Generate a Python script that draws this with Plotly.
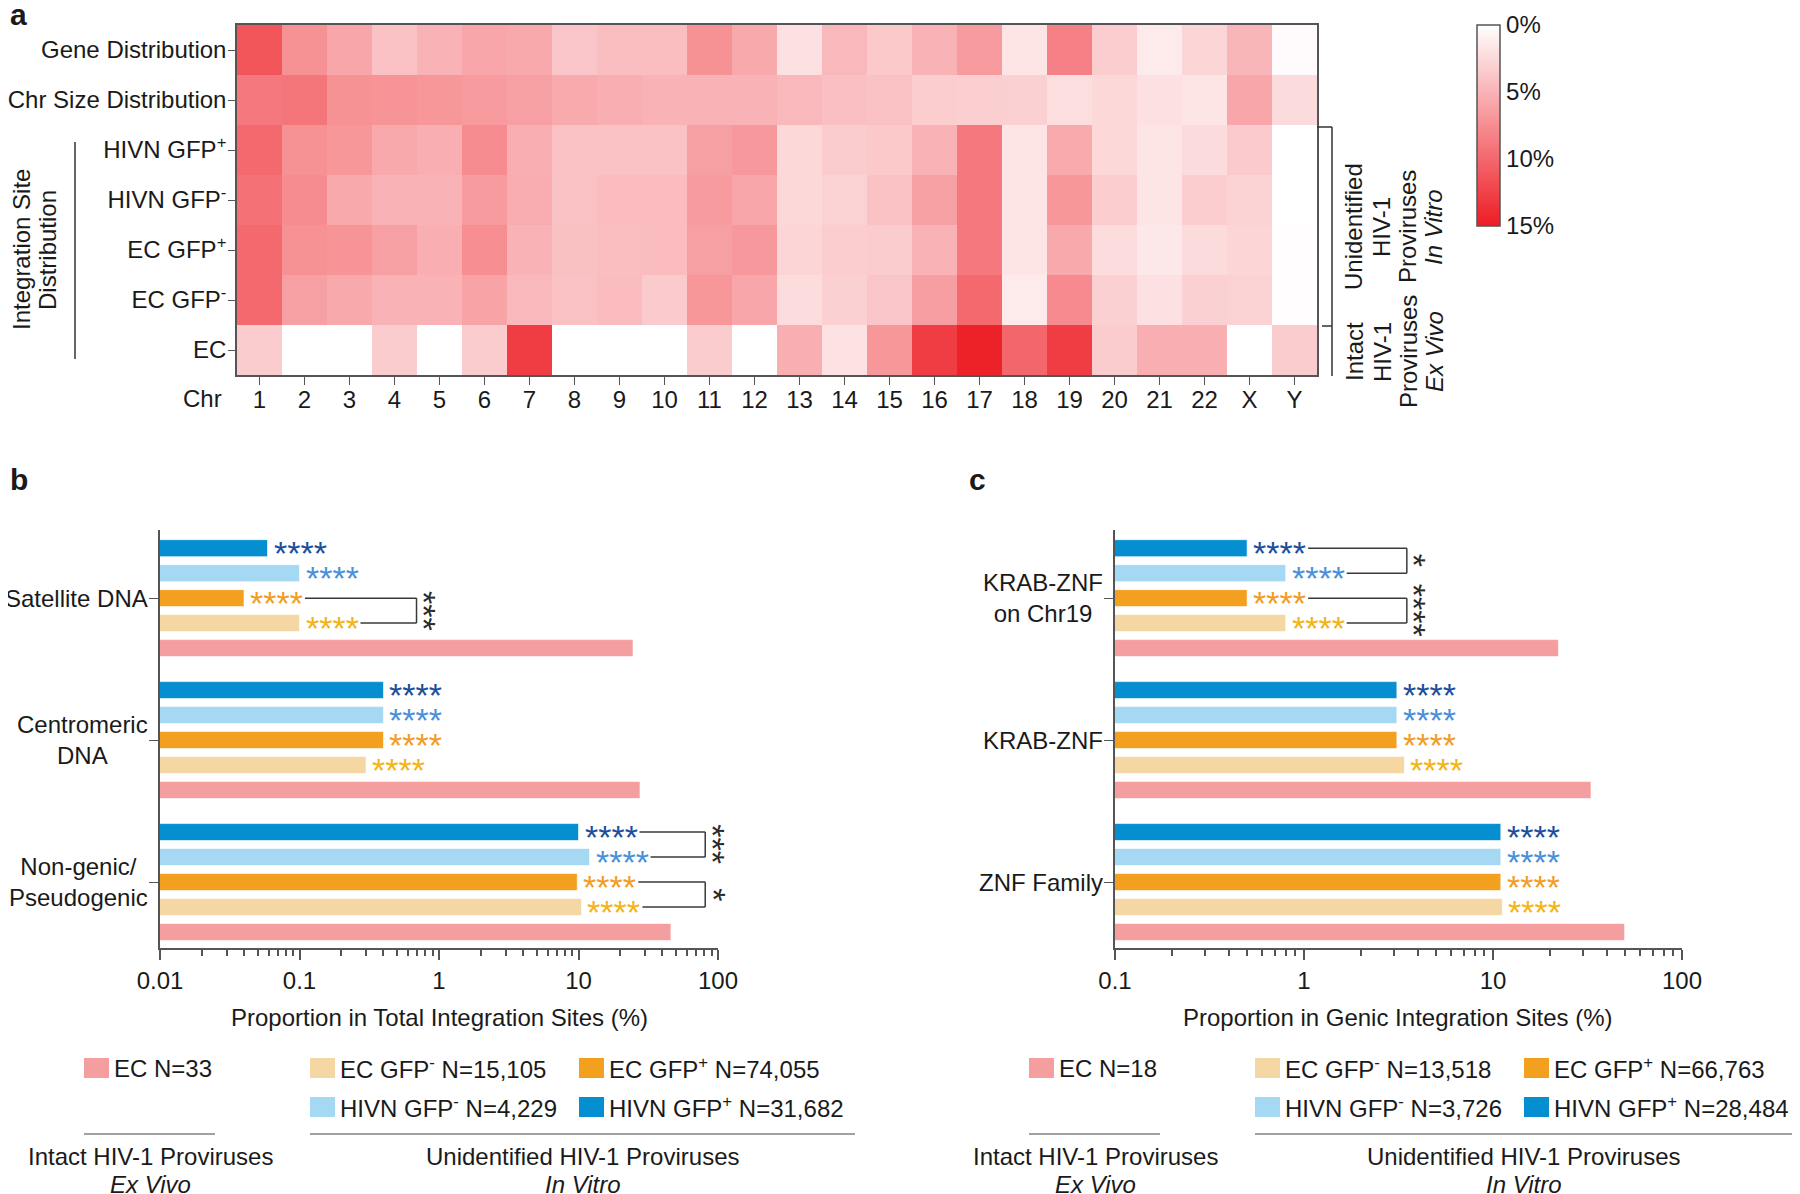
import numpy as np
import plotly.graph_objects as go

# the page body keeps its default 8px margin, so the figure is drawn 8px in from the corner
PAGE_W, PAGE_H, BODY = 1800, 1194, 8
W, H = PAGE_W - BODY, PAGE_H - BODY
FONT = "Arial, Liberation Sans, sans-serif"
INK = "#1a1a1a"
AXC = "#555555"
FS = 24


def px(x):
	return (x - BODY) / W


def py(y):
	return 1 - (y - BODY) / H


# ----------------------------------------------------------------------------------------------
# data: panel a (percent of integration sites per chromosome)

chroms = [str(i) for i in range(1, 23)] + ["X", "Y"]
row_labels = [
	"Gene Distribution",
	"Chr Size Distribution",
	"HIVN GFP<sup>+</sup>",
	"HIVN GFP<sup>-</sup>",
	"EC GFP<sup>+</sup>",
	"EC GFP<sup>-</sup>",
	"EC",
]

gene_dist = [11.2, 7.3, 5.9, 4.0, 5.0, 5.9, 5.7, 3.8, 4.3, 4.3, 7.3, 5.7, 2.0, 4.6, 3.6, 5.0, 6.6, 1.7, 8.3, 3.3, 1.3, 2.8, 4.8, 0.3]
chr_size_dist = [8.9, 9.1, 7.3, 7.1, 6.9, 6.6, 6.3, 5.6, 5.3, 5.1, 5.0, 5.0, 4.6, 4.2, 4.0, 3.3, 3.2, 3.1, 2.2, 2.6, 2.0, 1.8, 5.9, 2.4]
hivn_gfp_pos = [9.9, 7.3, 6.9, 5.7, 5.3, 7.6, 5.3, 4.0, 4.0, 4.0, 6.3, 6.8, 2.6, 3.4, 3.6, 5.1, 8.9, 1.8, 5.6, 2.6, 1.8, 2.4, 3.5, 0.0]
hivn_gfp_neg = [9.4, 7.6, 5.7, 5.1, 5.0, 6.6, 5.5, 4.0, 4.4, 4.4, 6.6, 5.9, 2.6, 3.0, 4.0, 6.3, 8.9, 1.8, 6.9, 3.3, 1.8, 3.3, 3.0, 0.0]
ec_gfp_pos = [9.9, 7.3, 7.1, 6.3, 5.3, 7.5, 5.0, 4.1, 4.3, 4.4, 6.3, 6.8, 2.8, 3.3, 3.4, 5.1, 8.9, 1.8, 5.7, 2.3, 1.5, 2.4, 2.8, 0.1]
ec_gfp_neg = [9.9, 6.3, 5.7, 5.0, 5.0, 6.1, 4.6, 4.0, 4.4, 3.5, 6.9, 5.9, 2.3, 3.1, 3.8, 6.4, 9.9, 1.4, 7.7, 3.1, 2.0, 3.1, 3.0, 0.1]
ec_ex_vivo = [3.4, 0.0, 0.0, 3.4, 0.0, 3.4, 12.9, 0.0, 0.0, 0.0, 3.4, 0.0, 5.3, 1.9, 6.9, 12.9, 14.7, 10.1, 12.9, 3.4, 5.3, 5.3, 0.0, 3.4]

heat_rows = [gene_dist, chr_size_dist, hivn_gfp_pos, hivn_gfp_neg, ec_gfp_pos, ec_gfp_neg, ec_ex_vivo]
cbar_ticks = [0, 5, 10, 15]

# ----------------------------------------------------------------------------------------------
# data: panels b and c (proportion, %), categories listed top to bottom

cats_b = ["Satellite DNA", "Centromeric<br>DNA", "Non-genic/<br>Pseudogenic"]
ec_b = [24.6, 27.6, 46.0]
ec_gfp_neg_b = [0.10, 0.30, 10.5]
ec_gfp_pos_b = [0.040, 0.40, 9.8]
hivn_gfp_neg_b = [0.10, 0.40, 12.0]
hivn_gfp_pos_b = [0.059, 0.40, 10.0]

cats_c = ["KRAB-ZNF<br>on Chr19", "KRAB-ZNF", "ZNF Family"]
ec_c = [22.2, 33.0, 49.7]
ec_gfp_neg_c = [0.80, 3.4, 11.2]
ec_gfp_pos_c = [0.50, 3.1, 11.0]
hivn_gfp_neg_c = [0.80, 3.1, 11.0]
hivn_gfp_pos_c = [0.50, 3.1, 11.0]

# series order = bottom to top inside each group
series_names = ["EC", "EC GFP<sup>-</sup>", "EC GFP<sup>+</sup>", "HIVN GFP<sup>-</sup>", "HIVN GFP<sup>+</sup>"]
bar_colors = ["#F59EA0", "#F4D7A2", "#F3A020", "#A5D8F3", "#068FD0"]
star_colors = [None, "#F2B417", "#F39C1F", "#4A90D9", "#1B4F9C"]
stars_b = ["", "****", "****", "****", "****"]
stars_c = ["", "****", "****", "****", "****"]

legend_n_b = ["N=33", "N=15,105", "N=74,055", "N=4,229", "N=31,682"]
legend_n_c = ["N=18", "N=13,518", "N=66,763", "N=3,726", "N=28,484"]

# pairwise comparisons: (category, series a, series b, bracket x value, label)
brackets_b = [
	("Satellite DNA", 2, 1, 0.69, "***"),
	("Non-genic/<br>Pseudogenic", 4, 3, 81, "***"),
	("Non-genic/<br>Pseudogenic", 2, 1, 81, "*"),
]
brackets_c = [
	("KRAB-ZNF<br>on Chr19", 4, 3, 3.5, "*"),
	("KRAB-ZNF<br>on Chr19", 2, 1, 3.5, "****"),
]

BARGAP = 0.12
N_SER = len(series_names)

fig = go.Figure()

# ----------------------------------------------------------------------------------------------
# panel a: heatmap (values negated so that 0% sits at the top of the colour bar)

fig.add_trace(
	go.Heatmap(
		z=-np.array(heat_rows),
		x=chroms,
		y=row_labels,
		customdata=np.array(heat_rows),
		hovertemplate='Chr %{x}<br>%{y}: %{customdata:.1f}%<extra></extra>',
		zmin=-15, zmax=0,
		colorscale=[[0, "rgb(237,28,36)"], [1, "rgb(255,255,255)"]],
		xaxis="x", yaxis="y",
		colorbar=dict(
			x=px(1477), xanchor="left", xpad=0,
			y=py(25), yanchor="top", ypad=0,
			lenmode="pixels", len=201,
			thicknessmode="pixels", thickness=23,
			outlinecolor=AXC, outlinewidth=1.5,
			tickvals=[-t for t in cbar_ticks],
			ticktext=["%d%%" % t for t in cbar_ticks],
			ticks="",
			tickfont=dict(size=FS, family=FONT, color=INK),
		),
	)
)

# ----------------------------------------------------------------------------------------------
# panels b and c: grouped horizontal bars on log axes

series_b = [ec_b, ec_gfp_neg_b, ec_gfp_pos_b, hivn_gfp_neg_b, hivn_gfp_pos_b]
series_c = [ec_c, ec_gfp_neg_c, ec_gfp_pos_c, hivn_gfp_neg_c, hivn_gfp_pos_c]

for cats, series, ax in [(cats_b, series_b, "2"), (cats_c, series_c, "3")]:
	for i, vals in enumerate(series):
		fig.add_trace(
			go.Bar(
				x=vals, y=cats,
				orientation="h",
				name=series_names[i],
				marker=dict(color=bar_colors[i], line=dict(color="rgba(255,255,255,0.6)", width=1)),
				xaxis="x" + ax, yaxis="y" + ax,
				showlegend=False,
				hovertemplate='%{y}<br>%{x}%<extra>' + series_names[i] + '</extra>',
			)
		)

annotations = []
shapes = []


def slot_y(cats, cat, i):
	# numeric position of series i inside the group of category cat (bottom category = 0)
	idx = len(cats) - 1 - cats.index(cat)
	slot = (1 - BARGAP) / N_SER
	return idx - (1 - BARGAP) / 2 + (i + 0.5) * slot


def panel_marks(cats, series, stars, brackets, ax, ppd):
	star_w = 61 / ppd  # width of the asterisk string, in decades
	for i, vals in enumerate(series):
		if not stars[i]:
			continue
		for cat, v in zip(cats, vals):
			# annotations on log axes take log10 positions
			annotations.append(dict(
				x=np.log10(v), y=slot_y(cats, cat, i),
				xref="x" + ax, yref="y" + ax,
				text=stars[i], showarrow=False,
				xanchor="left", yanchor="middle", xshift=4, yshift=-5,
				font=dict(size=34, family=FONT, color=star_colors[i]),
			))
	for cat, a, b, xb, label in brackets:
		ya, yb = slot_y(cats, cat, a), slot_y(cats, cat, b)
		va = series[a][cats.index(cat)]
		vb = series[b][cats.index(cat)]
		line = dict(color="#3a3a3a", width=1.5)
		# shapes on log axes take data values
		for x0, y0, x1, y1 in [
			(va * 10 ** star_w, ya, xb, ya),
			(xb, ya, xb, yb),
			(vb * 10 ** star_w, yb, xb, yb),
		]:
			shapes.append(dict(type="line", xref="x" + ax, yref="y" + ax,
				x0=x0, y0=y0, x1=x1, y1=y1, line=line))
		annotations.append(dict(
			x=np.log10(xb) + 8 / ppd, y=(ya + yb) / 2,
			xref="x" + ax, yref="y" + ax,
			text=label, showarrow=False, textangle=90,
			xanchor="center", yanchor="middle",
			font=dict(size=34, family=FONT, color="#2a2a2a"),
		))
	for cat in cats:
		annotations.append(dict(
			x=0, y=cat, xref="x" + ax + " domain", yref="y" + ax,
			text=cat, showarrow=False, align="center",
			xanchor="right", yanchor="middle", xshift=-10,
			font=dict(size=FS, family=FONT, color=INK),
		))


panel_marks(cats_b, series_b, stars_b, brackets_b, "2", (718 - 160) / 4)
panel_marks(cats_c, series_c, stars_c, brackets_c, "3", (1682 - 1115) / 3)

# ----------------------------------------------------------------------------------------------
# panel a decorations

gray_line = dict(color="#333333", width=1.5)

# right bracket
for x0, y0, x1, y1 in [(1317, 127, 1332, 127), (1332, 127, 1332, 376), (1322, 326, 1332, 326)]:
	shapes.append(dict(type="line", xref="paper", yref="paper",
		x0=px(x0), y0=py(y0), x1=px(x1), y1=py(y1), line=gray_line))
# left line for the integration-site rows
shapes.append(dict(type="line", xref="paper", yref="paper",
	x0=px(75), y0=py(142), x1=px(75), y1=py(359), line=gray_line))

text_font = dict(size=FS, family=FONT, color=INK)
label_font = dict(size=30, family=FONT, color=INK)

# rotated group labels on the right, one annotation per text line
group_lines = [
	(227, ["Unidentified", "HIV-1", "Proviruses", "<i>In Vitro</i>"]),
	(352, ["Intact", "HIV-1", "Proviruses", "<i>Ex Vivo</i>"]),
]
for cy, lines in group_lines:
	for lx, t in zip([1354, 1382, 1408, 1434], lines):
		annotations.append(dict(x=px(lx), y=py(cy), xref="paper", yref="paper", textangle=-90,
			text=t, showarrow=False, xanchor="center", yanchor="middle", font=text_font))

for lx, t in zip([22, 48], ["Integration Site", "Distribution"]):
	annotations.append(dict(x=px(lx), y=py(250), xref="paper", yref="paper", textangle=-90,
		text=t, showarrow=False, xanchor="center", yanchor="middle", font=text_font))

annotations += [
	dict(x=px(224), y=py(398), xref="paper", yref="paper", text="Chr", showarrow=False,
		xanchor="right", yanchor="middle", font=text_font),
	dict(x=px(8), y=py(-4), xref="paper", yref="paper", text="<b>a</b>", showarrow=False,
		xanchor="left", yanchor="top", font=label_font),
	dict(x=px(8), y=py(461), xref="paper", yref="paper", text="<b>b</b>", showarrow=False,
		xanchor="left", yanchor="top", font=label_font),
	dict(x=px(967), y=py(461), xref="paper", yref="paper", text="<b>c</b>", showarrow=False,
		xanchor="left", yanchor="top", font=label_font),
	dict(x=px(439), y=py(1017), xref="paper", yref="paper",
		text="Proportion in Total Integration Sites (%)", showarrow=False,
		xanchor="center", yanchor="middle", font=text_font),
	dict(x=px(1398), y=py(1017), xref="paper", yref="paper",
		text="Proportion in Genic Integration Sites (%)", showarrow=False,
		xanchor="center", yanchor="middle", font=text_font),
]

# ----------------------------------------------------------------------------------------------
# hand-made legends for b and c

def add_legend(x_single, x_col1, x_col2, x_end, names_n):
	# (series index, swatch x, row y)
	slots = [(0, x_single, 1068), (1, x_col1, 1068), (2, x_col2, 1068), (3, x_col1, 1107), (4, x_col2, 1107)]
	for i, sx, sy in slots:
		shapes.append(dict(type="rect", xref="paper", yref="paper",
			x0=px(sx), x1=px(sx + 25), y0=py(sy - 10), y1=py(sy + 10),
			fillcolor=bar_colors[i], line=dict(width=0)))
		annotations.append(dict(x=px(sx + 28), y=py(sy), xref="paper", yref="paper",
			text=series_names[i] + " " + names_n[i], showarrow=False,
			xanchor="left", yanchor="middle", font=text_font))
	for x0, x1 in [(x_single, x_single + 131), (x_col1, x_end)]:
		shapes.append(dict(type="line", xref="paper", yref="paper",
			x0=px(x0), x1=px(x1), y0=py(1134), y1=py(1134), line=dict(color="#444444", width=1.2)))
	for cx, t1, t2 in [
		(x_single + 66, "Intact HIV-1 Proviruses", "<i>Ex Vivo</i>"),
		((x_col1 + x_end) / 2, "Unidentified HIV-1 Proviruses", "<i>In Vitro</i>"),
	]:
		annotations.append(dict(x=px(cx), y=py(1156), xref="paper", yref="paper", text=t1,
			showarrow=False, xanchor="center", yanchor="middle", font=text_font))
		annotations.append(dict(x=px(cx), y=py(1184), xref="paper", yref="paper", text=t2,
			showarrow=False, xanchor="center", yanchor="middle", font=text_font))


add_legend(84, 310, 579, 855, legend_n_b)
add_legend(1029, 1255, 1524, 1792, legend_n_c)

# ----------------------------------------------------------------------------------------------
# axes

bar_x = dict(
	type="log", showline=True, linecolor=AXC, linewidth=1.5,
	ticks="outside", ticklen=10, tickcolor=AXC, tickwidth=1.5,
	dtick=1, showgrid=False, zeroline=False, automargin=False,
	minor=dict(ticks="outside", ticklen=6, tickcolor=AXC, dtick="D1", showgrid=False),
	tickfont=dict(size=24, family=FONT, color=INK),
)
bar_y = dict(
	type="category", showline=True, linecolor=AXC, linewidth=1.5,
	ticks="outside", ticklen=9, tickcolor=AXC, showticklabels=False,
	showgrid=False, zeroline=False, range=[-0.465, 2.48], automargin=False,
	domain=[py(948), py(530)],
)

fig.update_layout(
	width=W, height=H,
	margin=dict(l=0, r=0, t=0, b=0, autoexpand=False),
	paper_bgcolor="white", plot_bgcolor="white",
	font=dict(family=FONT, size=FS, color=INK),
	barmode="group", bargap=BARGAP, bargroupgap=0.32,
	showlegend=False,
	xaxis=dict(
		domain=[px(237), px(1317)], anchor="y", automargin=False,
		showline=True, mirror=True, linecolor=AXC, linewidth=1.5,
		ticks="outside", ticklen=8, tickcolor=AXC, ticklabelstandoff=-6,
		tickfont=dict(size=24, family=FONT, color=INK), showgrid=False,
	),
	yaxis=dict(
		domain=[py(375), py(25)], anchor="x", automargin=False,
		autorange="reversed",
		showline=True, mirror=True, linecolor=AXC, linewidth=1.5,
		ticks="outside", ticklen=7, tickcolor=AXC, ticklabelstandoff=-3,
		tickfont=dict(size=FS, family=FONT, color=INK), showgrid=False,
	),
	xaxis2=dict(bar_x, domain=[px(160), px(718)], anchor="y2", range=[-2, 2]),
	yaxis2=dict(bar_y, anchor="x2", categoryorder="array", categoryarray=cats_b[::-1]),
	xaxis3=dict(bar_x, domain=[px(1115), px(1682)], anchor="y3", range=[-1, 2]),
	yaxis3=dict(bar_y, anchor="x3", categoryorder="array", categoryarray=cats_c[::-1]),
	annotations=annotations,
	shapes=shapes,
)

fig.write_html("out.html")
